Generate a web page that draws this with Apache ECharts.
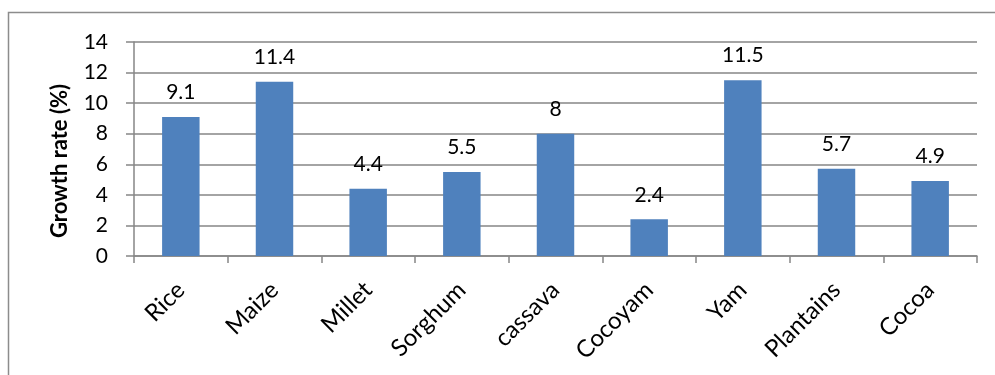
<!DOCTYPE html>
<html>
<head>
<meta charset="utf-8">
<script src="https://cdn.jsdelivr.net/npm/echarts@6/dist/echarts.min.js"></script>
<style>
  html, body { margin: 0; padding: 0; background: #fff; }
  #chart { width: 995px; height: 375px; }
</style>
</head>
<body>
<div id="chart"></div>
<script>
// Crop growth rates
const crops = ['Rice', 'Maize', 'Millet', 'Sorghum', 'cassava', 'Cocoyam', 'Yam', 'Plantains', 'Cocoa'];
const growthRates = [9.1, 11.4, 4.4, 5.5, 8, 2.4, 11.5, 5.7, 4.9];
const yAxisTitle = 'Growth rate (%)';

const FONT = 'Lato, "Open Sans", sans-serif';
const GRID = '#868686';

const chart = echarts.init(document.getElementById('chart'), null, { renderer: 'canvas' });
chart.setOption({
  animation: false,
  backgroundColor: '#fff',
  textStyle: { fontFamily: FONT },
  graphic: [{
    type: 'rect',
    shape: { x: 8.5, y: 12.5, width: 1000, height: 400 },
    style: { fill: 'none', stroke: '#8c8c8c', lineWidth: 1.5 },
    silent: true
  }],
  grid: { left: 134, right: 18, top: 42, bottom: 119 },
  xAxis: {
    type: 'category',
    data: crops,
    axisLine: { lineStyle: { color: GRID, width: 1.5 } },
    axisTick: { show: true, length: 7, lineStyle: { color: GRID, width: 1.5 } },
    axisLabel: { rotate: 45, margin: 30, color: '#000', fontSize: 24, fontFamily: FONT }
  },
  yAxis: {
    type: 'value',
    min: 0, max: 14, interval: 2,
    name: yAxisTitle,
    nameLocation: 'middle',
    nameRotate: 90,
    nameGap: 63,
    nameTextStyle: {
      color: '#000', fontSize: 22, fontWeight: 'bold', fontFamily: FONT,
      padding: [0, 24, 0, 0]
    },
    axisLine: { show: true, lineStyle: { color: GRID, width: 1.5 } },
    axisTick: { show: true, length: 8, lineStyle: { color: GRID, width: 1.5 } },
    axisLabel: { margin: 26, color: '#000', fontSize: 21, fontFamily: FONT },
    splitLine: { lineStyle: { color: GRID, width: 1.5 } }
  },
  series: [{
    type: 'bar',
    data: growthRates,
    barWidth: '40%',
    itemStyle: { color: '#4F81BD' },
    label: {
      show: true, position: 'top', distance: 14,
      color: '#000', fontSize: 21, fontFamily: FONT
    }
  }]
});
</script>
</body>
</html>
